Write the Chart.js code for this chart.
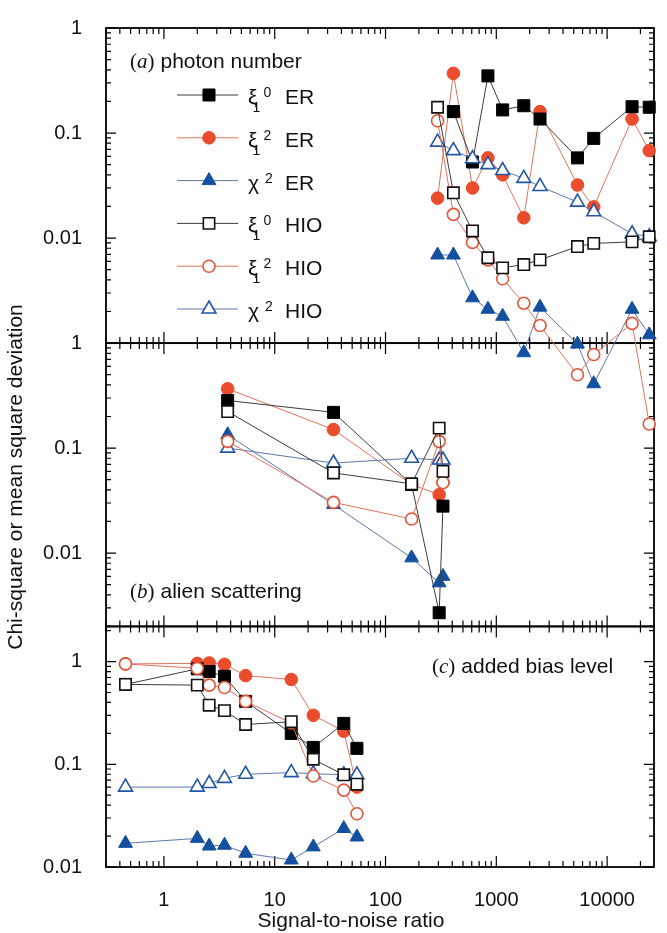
<!DOCTYPE html>
<html>
<head>
<meta charset="utf-8">
<script src="https://cdn.jsdelivr.net/npm/chart.js@4.4.1/dist/chart.umd.min.js"></script>
<style>
  html, body { margin: 0; padding: 0; background: #fff; overflow: hidden; }
  #wrap { width: 667px; height: 933px; }
</style>
</head>
<body>
<div id="wrap"><canvas id="chart" width="667" height="933"></canvas></div>
<script>
// series order: xi1^0 ER, xi1^2 ER, chi^2 ER, xi1^0 HIO, xi1^2 HIO, chi^2 HIO
const seriesSymbol = ['ξ', 'ξ', 'χ', 'ξ', 'ξ', 'χ'];
const seriesSub = ['1', '1', '', '1', '1', ''];
const seriesSup = ['0', '2', '2', '0', '2', '2'];
const seriesMethod = ['ER', 'ER', 'ER', 'HIO', 'HIO', 'HIO'];

// (a) photon number
const photonSnr = [295, 410, 610, 840, 1140, 1770, 2480, 5400, 7570, 16800, 24000];
const photonXi0ER = [null, 0.16, 0.053, 0.35, 0.166, 0.182, 0.136, 0.058, 0.089, 0.178, 0.176];
const photonXi2ER = [0.024, 0.37, 0.030, 0.058, 0.040, 0.0156, 0.16, 0.032, 0.0198, 0.136, 0.068];
const photonChiER = [0.0069, 0.0069, 0.0027, 0.0021, 0.0018, 0.00081, 0.0022, 0.00098, 0.00041, 0.0021, 0.0012];
const photonXi0HIO = [0.176, 0.027, 0.0117, 0.0065, 0.0052, 0.0056, 0.0062, 0.0083, 0.0089, 0.0092, 0.0103];
const photonXi2HIO = [0.131, 0.0168, 0.0091, 0.0062, 0.0041, 0.0024, 0.00147, 0.0005, 0.00078, 0.00154, 0.00017];
const photonChiHIO = [0.082, 0.068, 0.057, 0.050, 0.044, 0.037, 0.031, 0.022, 0.0178, 0.011, 0.0103];

// (b) alien scattering
const alienSnr = [3.76, 33.9, 172, 305, 330];
const alienXi0ER = [0.284, 0.219, 0.045, 0.0027, 0.028];
const alienXi2ER = [0.367, 0.15, 0.045, 0.036, 0.047];
const alienChiER = [0.134, 0.029, 0.009, 0.0052, 0.006];
const alienXi0HIO = [0.223, 0.058, 0.0457, 0.155, 0.06];
const alienXi2HIO = [0.116, 0.0304, 0.0211, 0.116, 0.047];
const alienChiHIO = [0.1, 0.072, 0.08, 0.077, 0.077];

// (c) added bias level
const biasSnr = [0.45, 2.0, 2.56, 3.52, 5.46, 14.1, 22.3, 42, 55.2];
const biasXi0ER = [0.6, 0.85, 0.8, 0.72, 0.41, 0.2, 0.146, 0.25, 0.143];
const biasXi2ER = [0.95, 0.96, 0.97, 0.94, 0.73, 0.67, 0.30, 0.21, 0.06];
const biasChiER = [0.017, 0.019, 0.016, 0.0163, 0.0136, 0.0117, 0.0157, 0.0237, 0.0196];
const biasXi0HIO = [0.6, 0.59, 0.376, 0.333, 0.244, 0.26, 0.112, 0.079, 0.064];
const biasXi2HIO = [0.95, 0.86, 0.59, 0.56, 0.41, 0.253, 0.077, 0.056, 0.033];
const biasChiHIO = [0.06, 0.06, 0.065, 0.073, 0.08, 0.083, 0.081, 0.079, 0.079];

const xTickLabels = [1, 10, 100, 1000, 10000];
const yTickLabels = [1, 0.1, 0.01];

const styles = [
  { shape: 'rect', radius: 8.5, fill: '#000', edge: '#000', line: '#3c3c3c' },
  { shape: 'circle', radius: 6.3, fill: '#ea4c2c', edge: '#ea4c2c', line: '#e2735d' },
  { shape: 'triangle', radius: 8, fill: '#1450a0', edge: '#1450a0', line: '#5a78aa' },
  { shape: 'rect', radius: 8, fill: '#fff', edge: '#111', line: '#3c3c3c' },
  { shape: 'circle', radius: 6, fill: '#fff', edge: '#e2553a', line: '#e2735d' },
  { shape: 'triangle', radius: 8, fill: '#fff', edge: '#2456a6', line: '#5a78aa' }
];

const FONT = '"Liberation Sans", Arial, sans-serif';
const SERIF = '"Liberation Serif", "Times New Roman", serif';

function makeSets(xs, series, axis) {
  return series.map((ys, i) => ({
    label: seriesSymbol[i] + seriesSub[i] + seriesSup[i] + ' ' + seriesMethod[i],
    data: xs.map((x, j) => ({ x: x, y: ys[j] })),
    yAxisID: axis,
    borderColor: styles[i].line,
    borderWidth: 1,
    pointStyle: styles[i].shape,
    pointRadius: styles[i].radius,
    pointHoverRadius: styles[i].radius,
    pointBackgroundColor: styles[i].fill,
    pointBorderColor: styles[i].edge,
    pointBorderWidth: i < 3 ? 1 : 1.6,
    order: i < 3 ? 2 : 1,
    tension: 0,
    clip: false
  }));
}

function logSteps(min, max) {
  const out = [];
  for (let e = Math.floor(Math.log10(min)); e <= Math.ceil(Math.log10(max)); e++) {
    for (let m = 1; m <= 9; m++) {
      const v = m * Math.pow(10, e);
      if (v >= min * 0.9999 && v <= max * 1.0001) out.push([v, m === 1]);
    }
  }
  return out;
}

function pickLabel(list) {
  return v => {
    const hit = list.find(t => Math.abs(v - t) / t < 1e-6);
    return hit === undefined ? '' : String(hit);
  };
}

const panelFrames = {
  id: 'panelFrames',
  beforeDatasetsDraw(chart) {
    const ctx = chart.ctx;
    const x = chart.scales.x;
    ctx.save();
    ctx.strokeStyle = '#000';
    ['ya', 'yb', 'yc'].forEach(id => {
      const y = chart.scales[id];
      ctx.lineWidth = 1.2;
      ctx.beginPath();
      logSteps(x.min, x.max).forEach(([v, major]) => {
        const px = x.getPixelForValue(v);
        const len = major ? 11 : 6;
        ctx.moveTo(px, y.top); ctx.lineTo(px, y.top + len);
        ctx.moveTo(px, y.bottom); ctx.lineTo(px, y.bottom - len);
      });
      logSteps(y.min, y.max).forEach(([v, major]) => {
        const py = y.getPixelForValue(v);
        const len = major ? 10 : 5;
        ctx.moveTo(x.left, py); ctx.lineTo(x.left + len, py);
        ctx.moveTo(x.right, py); ctx.lineTo(x.right - len, py);
      });
      ctx.stroke();
      ctx.lineWidth = 1.8;
      ctx.strokeRect(x.left, y.top, x.right - x.left, y.bottom - y.top);
    });
    ctx.restore();
  },
  afterDraw(chart) {
    const ctx = chart.ctx;
    const x = chart.scales.x;
    const ya = chart.scales.ya, yb = chart.scales.yb, yc = chart.scales.yc;
    ctx.save();
    ctx.fillStyle = '#111';
    ctx.textBaseline = 'alphabetic';

    // panel captions
    const caption = (px, py, letter, rest) => {
      ctx.textAlign = 'left';
      ctx.font = '21px ' + SERIF;
      ctx.fillText('(', px, py);
      let w = ctx.measureText('(').width;
      ctx.font = 'italic 21px ' + SERIF;
      ctx.fillText(letter, px + w, py);
      w += ctx.measureText(letter).width;
      ctx.font = '21px ' + SERIF;
      ctx.fillText(')', px + w, py);
      w += ctx.measureText(')').width;
      ctx.font = '21px ' + FONT;
      ctx.fillText(rest, px + w + 6, py);
    };
    caption(x.left + 24, ya.top + 40, 'a', 'photon number');
    caption(x.left + 24, yb.top + 255, 'b', 'alien scattering');
    caption(x.left + 326, yc.top + 47, 'c', 'added bias level');

    // legend
    chart.data.datasets.slice(0, 6).forEach((ds, i) => {
      const cy = ya.top + 67 + i * 42.8;
      ctx.strokeStyle = ds.borderColor;
      ctx.lineWidth = 1;
      ctx.beginPath();
      ctx.moveTo(x.left + 71, cy); ctx.lineTo(x.left + 132, cy);
      ctx.stroke();
      ctx.fillStyle = ds.pointBackgroundColor;
      ctx.strokeStyle = ds.pointBorderColor;
      ctx.lineWidth = ds.pointBorderWidth;
      Chart.helpers.drawPoint(ctx, { pointStyle: ds.pointStyle, radius: ds.pointRadius, borderWidth: ds.pointBorderWidth, rotation: 0 }, x.left + 103, cy);
      ctx.fillStyle = '#111';
      const tx = x.left + 142, by = cy + 9;
      ctx.font = '21px ' + FONT;
      ctx.fillText(seriesSymbol[i], tx, by);
      const sw = ctx.measureText(seriesSymbol[i]).width;
      ctx.font = '14px ' + FONT;
      if (seriesSub[i]) ctx.fillText(seriesSub[i], tx + sw - 5, by + 8);
      ctx.fillText(seriesSup[i], tx + sw + 6, by - 7);
      ctx.font = '21px ' + FONT;
      ctx.fillText(seriesMethod[i], tx + 37, by);
    });

    // shared y title
    ctx.fillStyle = '#111';
    ctx.translate(22, 477);
    ctx.rotate(-Math.PI / 2);
    ctx.textAlign = 'center';
    ctx.font = '21px ' + FONT;
    ctx.fillText('Chi-square or mean square deviation', 0, 0);
    ctx.restore();

    // x title
    ctx.save();
    ctx.fillStyle = '#111';
    ctx.textAlign = 'center';
    ctx.textBaseline = 'middle';
    ctx.font = '21px ' + FONT;
    ctx.fillText('Signal-to-noise ratio', x.left + 245, 921);
    ctx.restore();
  }
};

const tickFont = { family: FONT, size: 20 };

function yAxis(min, max, stackWeight, weight) {
  return {
    type: 'logarithmic',
    min: min,
    max: max,
    position: 'left',
    stack: 'panels',
    stackWeight: stackWeight,
    weight: weight,
    grid: { display: false },
    border: { display: false },
    ticks: { autoSkip: false, padding: 16, color: '#111', font: tickFont, callback: pickLabel(yTickLabels) },
    afterFit: s => { s.width = 106; }
  };
}

new Chart(document.getElementById('chart'), {
  type: 'line',
  data: {
    datasets: [].concat(
      makeSets(photonSnr, [photonXi0ER, photonXi2ER, photonChiER, photonXi0HIO, photonXi2HIO, photonChiHIO], 'ya'),
      makeSets(alienSnr, [alienXi0ER, alienXi2ER, alienChiER, alienXi0HIO, alienXi2HIO, alienChiHIO], 'yb'),
      makeSets(biasSnr, [biasXi0ER, biasXi2ER, biasChiER, biasXi0HIO, biasXi2HIO, biasChiHIO], 'yc')
    )
  },
  options: {
    responsive: false,
    animation: false,
    layout: { padding: { top: 22, right: 2, left: 0, bottom: 0 } },
    plugins: { legend: { display: false }, tooltip: { enabled: false } },
    scales: {
      x: {
        type: 'logarithmic',
        min: 0.315,
        max: 26500,
        position: 'bottom',
        grid: { display: false },
        border: { display: false },
        ticks: { autoSkip: false, maxRotation: 0, padding: 13, color: '#111', font: tickFont, callback: pickLabel(xTickLabels) },
        afterFit: s => { s.height = 66; }
      },
      ya: yAxis(0.001, 1, 317, 3),
      yb: yAxis(0.002, 1, 285, 2),
      yc: yAxis(0.01, 2.2, 242, 1)
    }
  },
  plugins: [panelFrames]
});
</script>
</body>
</html>
